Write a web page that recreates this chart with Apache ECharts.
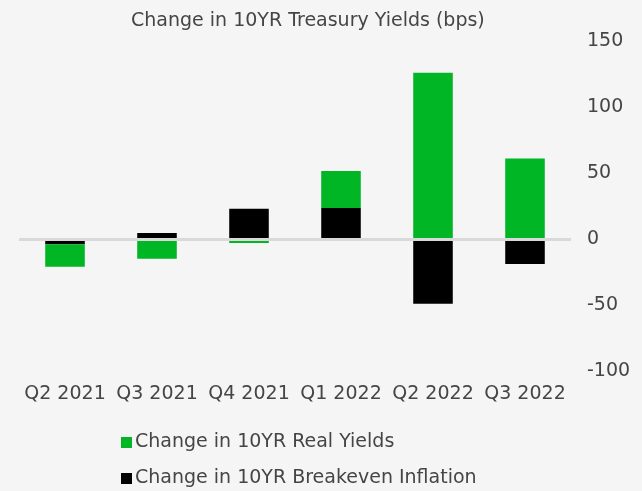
<!DOCTYPE html>
<html>
<head>
    <meta charset="utf-8">
    <title>Change in 10YR Treasury Yields</title>
    <script src="https://cdn.jsdelivr.net/npm/echarts@6/dist/echarts.min.js"></script>
    <style>
        html, body { margin: 0; padding: 0; background: #f5f5f5; }
        #chartmain { width: 642px; height: 491px; }
    </style>
</head>
<body>
<div id="chartmain"></div>
<script type="text/javascript">
    // quarters on the x axis
    var quarters = ['Q2 2021', 'Q3 2021', 'Q4 2021', 'Q1 2022', 'Q2 2022', 'Q3 2022'];
    // change in bps
    var realYields = [-17, -15, -3, 28, 126, 61];
    var breakeven = [-4, 4.5, 23, 23.5, -49, -19];
    var yTicks = [-100, -50, 0, 50, 100, 150];

    var txt = '#454545';
    var font = 'DejaVu Sans';

    var myChart = echarts.init(document.getElementById('chartmain'));
    var option = {
        backgroundColor: '#f5f5f5',
        title: {
            text: 'Change in 10YR Treasury Yields (bps)',
            left: 126,
            top: 7,
            textStyle: { color: txt, fontFamily: font, fontSize: 19, fontWeight: 'normal' }
        },
        legend: {
            orient: 'vertical',
            left: 116,
            top: 428,
            height: 120,
            itemGap: 17,
            itemWidth: 11,
            itemHeight: 11,
            icon: 'rect',
            data: ['Change in 10YR Real Yields', 'Change in 10YR Breakeven Inflation'],
            textStyle: { color: txt, fontFamily: font, fontSize: 19, padding: [0, 0, 0, -2] }
        },
        grid: { left: 19, right: 71, top: 41, bottom: 120, outerBoundsMode: 'none' },
        xAxis: {
            type: 'category',
            data: quarters,
            axisLine: { onZero: false, show: false },
            axisTick: { show: false },
            axisLabel: { color: txt, fontFamily: font, fontSize: 19, margin: 14, interval: 0 }
        },
        yAxis: {
            type: 'value',
            position: 'right',
            min: yTicks[0],
            max: yTicks[yTicks.length - 1],
            interval: 50,
            splitLine: { show: false },
            axisLine: { show: false },
            axisTick: { show: false },
            axisLabel: { color: txt, fontFamily: font, fontSize: 19, margin: 16 }
        },
        series: [
            {
                name: 'Change in 10YR Breakeven Inflation',
                type: 'bar',
                stack: 'yld',
                data: breakeven,
                barCategoryGap: '57%',
                itemStyle: { color: '#000000' }
            },
            {
                name: 'Change in 10YR Real Yields',
                type: 'bar',
                stack: 'yld',
                data: realYields,
                itemStyle: { color: '#00b624' },
                // zero line across the plot
                markLine: {
                    silent: true,
                    symbol: 'none',
                    label: { show: false },
                    lineStyle: { color: '#d9d9d9', width: 3, type: 'solid' },
                    data: [{ yAxis: 0 }]
                }
            }
        ]
    };
    myChart.setOption(option);
</script>
</body>
</html>
